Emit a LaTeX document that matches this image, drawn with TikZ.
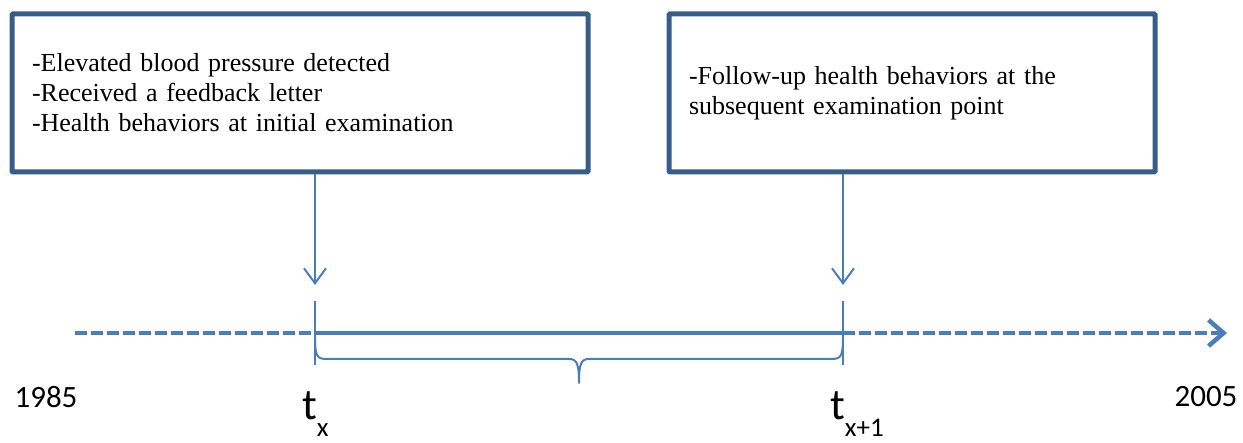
\documentclass[tikz,border=0pt]{standalone}
\usepackage{fontspec}
\setmainfont{Liberation Serif}
\newfontfamily\labelfont{Carlito}
\usepackage{tikz}
\usetikzlibrary{calc,arrows.meta}
\definecolor{framecolor}{HTML}{385D8A}
\definecolor{axiscolor}{HTML}{4A7EBB}
\newcommand{\framewidth}{5pt}
\newcommand{\axiswidth}{4.5pt}
\newcommand{\pinwidth}{2pt}
\tikzset{
  eventbox/.style={draw=framecolor, line width=\framewidth, rounded corners=1pt,
    inner xsep=20pt, align=left, minimum height=158pt,
    font=\fontsize{26}{30}\selectfont},
  pin/.style={draw=axiscolor, line width=\pinwidth},
  yearlabel/.style={font=\labelfont\fontsize{31}{31}\selectfont, inner sep=0pt}
}

\begin{document}
\begin{tikzpicture}[x=1pt,y=-1pt]
\useasboundingbox (0,0) rectangle (1243,443);
\node[eventbox, text width=536pt] (first) at (300,93) {-Elevated blood pressure detected\\-Received a feedback letter\\-Health behaviors at initial examination};
\node[eventbox, text width=446pt] (second) at (912,93) {-Follow-up health behaviors at the\\subsequent examination point};
\coordinate (start) at (75,333);
\coordinate (tx) at (315,333);
\coordinate (txx) at (843,333);
\coordinate (finish) at (1227,333);
\coordinate (hitx) at (315,285);
\coordinate (hitxx) at (843,285);
\coordinate (tickxtop) at (315,301);
\coordinate (tickxbot) at (315,365);
\coordinate (tickxxtop) at (843,301);
\coordinate (tickxxbot) at (843,365);
%arrows from the boxes
\draw[pin, -{Straight Barb[length=15pt,width=22pt]}] (first.south -| tx) -- (hitx);
\draw[pin, -{Straight Barb[length=15pt,width=22pt]}] (second.south -| txx) -- (hitxx);
%time axis
\draw[axiscolor, line width=\axiswidth, dash pattern=on 12pt off 4pt] (start) -- (tx);
\draw[axiscolor, line width=\axiswidth] (tx) -- (txx);
\draw[axiscolor, line width=\axiswidth, dash pattern=on 12pt off 4pt, -{Straight Barb[length=15pt,width=26pt]}] (txx) -- (finish);
\draw[pin] (tickxtop) -- (tickxbot);
\draw[pin] (tickxxtop) -- (tickxxbot);
%brace
\draw[pin, line join=round] ($(tx)+(0,4)$) .. controls ($(tx)+(0,26)$) and ($(tx)+(3,26)$) .. ($(tx)+(14,26)$)
  -- (569,359) .. controls (577,359) and (579,364) .. (579,383)
  .. controls (579,364) and (581,359) .. (589,359)
  -- ($(txx)+(-14,26)$) .. controls ($(txx)+(-3,26)$) and ($(txx)+(0,26)$) .. ($(txx)+(0,4)$);
%labels
\node[yearlabel] (begin) at (46,397) {1985};
\node[yearlabel] (end) at (1206,397) {2005};
\node[yearlabel, anchor=base west, font=\labelfont\fontsize{44}{44}\selectfont] (labx) at (302,420) {t\raisebox{-17pt}{\fontsize{27}{27}\selectfont x}};
\node[yearlabel, anchor=base west, font=\labelfont\fontsize{44}{44}\selectfont] (labxx) at (830,420) {t\raisebox{-17pt}{\fontsize{27}{27}\selectfont x+1}};
\end{tikzpicture}
\end{document}
